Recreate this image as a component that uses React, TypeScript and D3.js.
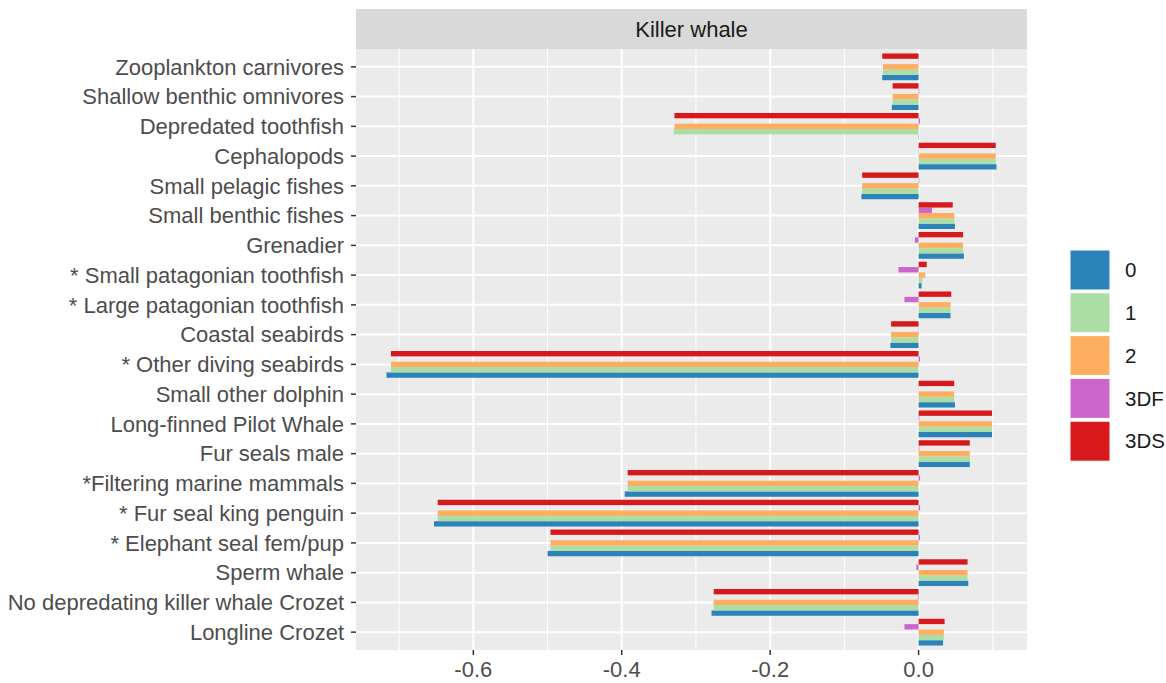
import React from "react";
import * as d3 from "d3";

// categories top -> bottom
const categories = [
  "Zooplankton carnivores",
  "Shallow benthic omnivores",
  "Depredated toothfish",
  "Cephalopods",
  "Small pelagic fishes",
  "Small benthic fishes",
  "Grenadier",
  "* Small patagonian toothfish",
  "* Large patagonian toothfish",
  "Coastal seabirds",
  "* Other diving seabirds",
  "Small other dolphin",
  "Long-finned Pilot Whale",
  "Fur seals male",
  "*Filtering marine mammals",
  "* Fur seal king penguin",
  "* Elephant seal fem/pup",
  "Sperm whale",
  "No depredating killer whale Crozet",
  "Longline Crozet",
];

const seriesNames = ["0", "1", "2", "3DF", "3DS"];
const seriesColors = ["#2b83ba", "#abdda4", "#fdae61", "#cc66cc", "#d7191c"];

const s0 = [-0.049, -0.036, 0, 0.105, -0.077, 0.049, 0.061, 0.004, 0.043, -0.038, -0.717, 0.049, 0.099, 0.069, -0.396, -0.653, -0.5, 0.067, -0.279, 0.033];
const s1 = [-0.048, -0.035, -0.33, 0.104, -0.076, 0.048, 0.06, 0.005, 0.043, -0.037, -0.711, 0.048, 0.099, 0.069, -0.392, -0.648, -0.496, 0.066, -0.276, 0.034];
const s2 = [-0.048, -0.035, -0.329, 0.104, -0.076, 0.048, 0.06, 0.009, 0.043, -0.037, -0.711, 0.048, 0.099, 0.069, -0.392, -0.648, -0.496, 0.066, -0.276, 0.034];
const s3DF = [0, 0.001, 0.002, 0, 0.001, 0.018, -0.005, -0.027, -0.019, 0, 0.002, 0, 0.001, 0.001, 0.002, 0.002, 0.002, -0.003, -0.001, -0.019];
const s3DS = [-0.049, -0.035, -0.329, 0.104, -0.076, 0.046, 0.06, 0.011, 0.044, -0.037, -0.711, 0.048, 0.099, 0.069, -0.392, -0.648, -0.496, 0.066, -0.276, 0.035];

const seriesValues = [s0, s1, s2, s3DF, s3DS];

const majorTicks = [-0.6, -0.4, -0.2, 0.0];
const minorTicks = [-0.7, -0.5, -0.3, -0.1, 0.1];

const W = 1166;
const H = 683;
const panel = { left: 356, right: 1027, top: 49, bottom: 650 };
const font = "'Liberation Sans', Arial, sans-serif";
const fs = 22;

const App: React.FC = () => {
  const all = seriesValues.flat();
  const lo = d3.min(all)!;
  const hi = d3.max(all)!;
  const pad = (hi - lo) * 0.05;
  const x = d3.scaleLinear().domain([lo - pad, hi + pad]).range([panel.left, panel.right]);

  const y = d3.scaleBand<string>()
    .domain(categories)
    .range([panel.top, panel.bottom])
    .paddingInner(0)
    .paddingOuter(0.1);
  const step = y.step();

  // dodge: first series at bottom
  const inner = d3.scaleBand<string>()
    .domain([...seriesNames].reverse())
    .range([-0.45 * step, 0.45 * step]);

  const bars: { key: string; x0: number; x1: number; y: number; h: number; fill: string }[] = [];
  categories.forEach((c, i) => {
    const cy = y(c)! + step / 2;
    seriesNames.forEach((s, j) => {
      const v = seriesValues[j][i];
      bars.push({
        key: `${c}-${s}`,
        x0: Math.min(x(0), x(v)),
        x1: Math.max(x(0), x(v)),
        y: cy + inner(s)!,
        h: inner.bandwidth(),
        fill: seriesColors[j],
      });
    });
  });

  const legendX = 1070;
  const legendTop = 250;
  const keySize = 40;
  const keyGap = 2.8;

  return (
    <div style={{ position: "absolute", left: 0, top: 0 }}>
      <svg width={W} height={H} style={{ display: "block", background: "#fff" }}>
        {/* strip */}
        <rect x={panel.left} y={9} width={panel.right - panel.left} height={panel.top - 9} fill="#d9d9d9" />
        <text x={(panel.left + panel.right) / 2} y={29} dy="0.35em" textAnchor="middle"
          fontFamily={font} fontSize={fs} fill="#1a1a1a">Killer whale</text>

        {/* panel */}
        <rect x={panel.left} y={panel.top} width={panel.right - panel.left} height={panel.bottom - panel.top} fill="#ebebeb" />
        {minorTicks.map(t => (
          <line key={`mi${t}`} x1={x(t)} x2={x(t)} y1={panel.top} y2={panel.bottom} stroke="#fff" strokeWidth={1} />
        ))}
        {majorTicks.map(t => (
          <line key={`ma${t}`} x1={x(t)} x2={x(t)} y1={panel.top} y2={panel.bottom} stroke="#fff" strokeWidth={2} />
        ))}
        {categories.map(c => (
          <line key={`h${c}`} x1={panel.left} x2={panel.right} y1={y(c)! + step / 2} y2={y(c)! + step / 2} stroke="#fff" strokeWidth={2} />
        ))}

        {bars.map(b => (
          <rect key={b.key} x={b.x0} y={b.y} width={Math.max(b.x1 - b.x0, 0.4)} height={b.h} fill={b.fill} />
        ))}

        {/* y axis */}
        {categories.map(c => (
          <g key={`yl${c}`} transform={`translate(0,${y(c)! + step / 2})`}>
            <line x1={panel.left - 5} x2={panel.left} stroke="#333" strokeWidth={1.5} />
            <text x={panel.left - 12} dy="0.35em" textAnchor="end" fontFamily={font} fontSize={fs} fill="#4d4d4d">{c}</text>
          </g>
        ))}

        {/* x axis */}
        {majorTicks.map(t => (
          <g key={`xt${t}`} transform={`translate(${x(t)},${panel.bottom})`}>
            <line y1={0} y2={5} stroke="#333" strokeWidth={1.5} />
            <text y={19} dy="0.35em" textAnchor="middle" fontFamily={font} fontSize={fs} fill="#4d4d4d">
              {d3.format(".1f")(t).replace("−", "-")}
            </text>
          </g>
        ))}

        {/* legend */}
        {seriesNames.map((s, j) => (
          <g key={`lg${s}`} transform={`translate(${legendX},${legendTop + j * (keySize + keyGap)})`}>
            <rect width={keySize} height={keySize} fill={seriesColors[j]} stroke="#fff" strokeWidth={1} />
            <text x={keySize + 15} y={keySize / 2} dy="0.35em" fontFamily={font} fontSize={fs - 1.5} fill="#1a1a1a">{s}</text>
          </g>
        ))}
      </svg>
    </div>
  );
};

export default App;
